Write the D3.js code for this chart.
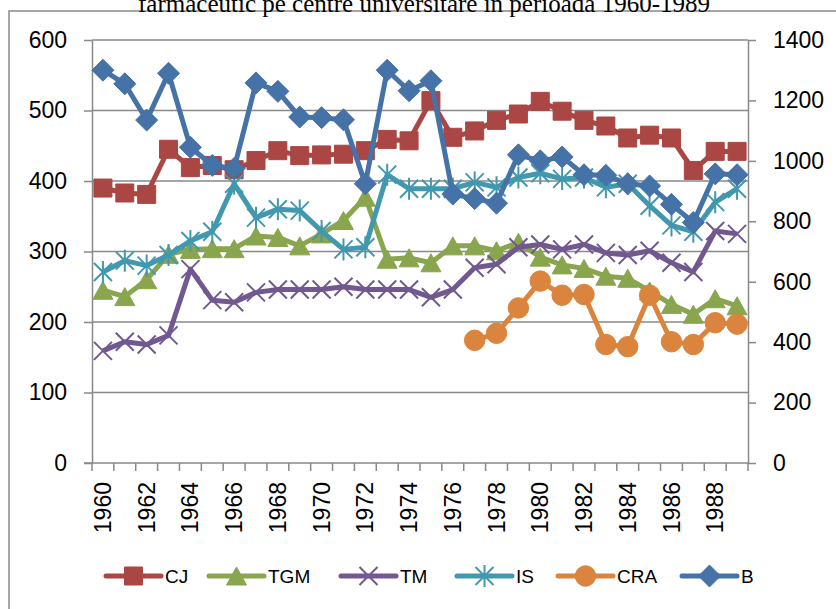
<!DOCTYPE html>
<html>
<head>
<style>
body { margin: 0; background: #fff; }
svg { display: block; }
.lbl { font-family: "Liberation Sans", Arial, sans-serif; font-size: 23px; fill: #000; }
.leg { font-family: "Liberation Sans", Arial, sans-serif; font-size: 19px; fill: #000; }
.title { font-family: "Liberation Serif", "Times New Roman", serif; font-size: 25px; fill: #000; }
</style>
</head>
<body>
<svg id="chart" width="836" height="609"></svg>
<script src="https://d3js.org/d3.v7.min.js"></script>
<script>
    // data
    const years = d3.range(1960, 1990);
    const yearLabels = years.filter(y => y % 2 == 0);
    const leftTicks = [0, 100, 200, 300, 400, 500, 600];
    const rightTicks = [0, 200, 400, 600, 800, 1000, 1200, 1400];

    const CJ  = [390, 383, 381, 445, 419, 422, 416, 429, 443, 436, 437, 438, 443, 459, 457, 514, 462, 471, 486, 495, 513, 499, 486, 478, 461, 465, 461, 415, 442, 442];
    const TGM = [245, 236, 260, 296, 303, 304, 304, 322, 320, 308, 325, 344, 377, 289, 291, 284, 308, 308, 301, 313, 292, 281, 276, 265, 262, 244, 225, 211, 233, 223];
    const TM  = [159, 172, 168, 181, 275, 231, 228, 242, 246, 246, 246, 250, 246, 246, 246, 235, 246, 277, 282, 306, 310, 303, 310, 298, 295, 301, 284, 271, 329, 325];
    const IS  = [271, 287, 280, 295, 315, 328, 396, 348, 360, 358, 329, 303, 306, 409, 389, 389, 389, 398, 391, 405, 411, 403, 405, 391, 396, 365, 337, 328, 370, 389];
    const CRA = [null, null, null, null, null, null, null, null, null, null, null, null, null, null, null, null, null, 174, 184, 220, 258, 238, 239, 168, 165, 238, 172, 168, 199, 197];
    const B   = [1300, 1255, 1135, 1290, 1045, 985, 975, 1258, 1230, 1145, 1143, 1136, 924, 1300, 1232, 1265, 890, 875, 860, 1020, 1000, 1013, 954, 952, 924, 917, 856, 796, 957, 954];

    const titleText = "farmaceutic pe centre universitare în perioada 1960-1989";

    const series = [
        {name: "CJ",  values: CJ,  color: "#AA4643", marker: "square",   axis: "left"},
        {name: "TGM", values: TGM, color: "#89A54E", marker: "triangle", axis: "left"},
        {name: "TM",  values: TM,  color: "#71588F", marker: "x",        axis: "left"},
        {name: "IS",  values: IS,  color: "#4198AF", marker: "star",     axis: "left"},
        {name: "CRA", values: CRA, color: "#DB843D", marker: "circle",   axis: "left"},
        {name: "B",   values: B,   color: "#4572A7", marker: "diamond",  axis: "right"}
    ];

    const svg = d3.select("#chart");
    const plot = {left: 92, right: 748, top: 40, bottom: 463};
    const gridColor = "#898989";

    const x = d3.scaleBand().domain(years).range([plot.left, plot.right]).padding(0);
    const yL = d3.scaleLinear().domain([0, 600]).range([plot.bottom, plot.top]);
    const yR = d3.scaleLinear().domain([0, 1400]).range([plot.bottom, plot.top]);

    // outer frame of the chart (runs off the page on the right and bottom)
    svg.append("rect")
        .attr("x", 9).attr("y", 11)
        .attr("width", 900).attr("height", 700)
        .style("fill", "none")
        .style("stroke", gridColor)
        .style("stroke-width", 1.5);

    // title, cut at the top as in the source picture
    svg.append("text")
        .attr("class", "title")
        .attr("x", 424)
        .attr("y", 12)
        .attr("text-anchor", "middle")
        .text(titleText);

    // gridlines
    svg.append("g").selectAll("line")
        .data(leftTicks.filter(d => d > 0))
        .enter()
        .append("line")
        .attr("x1", plot.left).attr("x2", plot.right)
        .attr("y1", d => yL(d)).attr("y2", d => yL(d))
        .style("stroke", gridColor)
        .style("stroke-width", 1.5);

    function styleAxis(g) {
        g.select(".domain").style("stroke", gridColor).style("stroke-width", 1.5);
        g.selectAll(".tick line").style("stroke", gridColor).style("stroke-width", 1.5);
        g.selectAll(".tick text").attr("class", "lbl");
        g.attr("font-size", null).attr("font-family", null);
    }

    const axL = svg.append("g")
        .attr("transform", "translate(" + plot.left + ",0)")
        .call(d3.axisLeft(yL).tickValues(leftTicks).tickFormat(d3.format("d")).tickSize(8).tickPadding(17).tickSizeOuter(0));
    styleAxis(axL);

    const axR = svg.append("g")
        .attr("transform", "translate(" + plot.right + ",0)")
        .call(d3.axisRight(yR).tickValues(rightTicks).tickFormat(d3.format("d")).tickSize(8).tickPadding(17).tickSizeOuter(0));
    styleAxis(axR);

    // bottom axis: ticks on category boundaries, labels every other year
    const axB = svg.append("g").attr("transform", "translate(0," + plot.bottom + ")");
    axB.append("line")
        .attr("x1", plot.left - 8).attr("x2", plot.right)
        .style("stroke", gridColor).style("stroke-width", 1.5);
    axB.selectAll("line.tk")
        .data(years.concat([1990]))
        .enter()
        .append("line")
        .attr("class", "tk")
        .attr("x1", d => d == 1990 ? plot.right : x(d))
        .attr("x2", d => d == 1990 ? plot.right : x(d))
        .attr("y1", 0).attr("y2", 8)
        .style("stroke", gridColor).style("stroke-width", 1.5);
    axB.selectAll("text")
        .data(yearLabels)
        .enter()
        .append("text")
        .attr("class", "lbl")
        .attr("text-anchor", "end")
        .attr("dy", "0.35em")
        .attr("transform", d => "translate(" + (x(d) + x.bandwidth() / 2) + ",19) rotate(-90)")
        .text(d => d);

    function markerPath(type) {
        if (type == "square") return "M-9,-9H9V9H-9Z";
        if (type == "triangle") return "M0,-9L10,9L-10,9Z";
        if (type == "diamond") return "M0,-11L11,0L0,11L-11,0Z";
        if (type == "circle") return d3.symbol().type(d3.symbolCircle).size(330)();
        if (type == "x") return "M-9,-9L9,9M-9,9L9,-9";
        if (type == "star") return "M-9,-9L9,9M-9,9L9,-9M0,-11V11";
    }

    function drawMarker(g, type, color) {
        var open = (type == "x" || type == "star");
        g.append("path")
            .attr("d", markerPath(type))
            .style("fill", open ? "none" : color)
            .style("stroke", color)
            .style("stroke-width", open ? 2 : 1);
    }

    const cx = d => x(d) + x.bandwidth() / 2;

    series.forEach(s => {
        var ys = s.axis == "left" ? yL : yR;
        var pts = years.map((yr, i) => ({year: yr, v: s.values[i]}));
        var line = d3.line()
            .defined(d => d.v != null)
            .x(d => cx(d.year))
            .y(d => ys(d.v));

        var g = svg.append("g");
        g.append("path")
            .datum(pts)
            .attr("d", line)
            .style("fill", "none")
            .style("stroke", s.color)
            .style("stroke-width", 5)
            .style("stroke-linejoin", "round");

        g.selectAll("g.mk")
            .data(pts.filter(d => d.v != null))
            .enter()
            .append("g")
            .attr("transform", d => "translate(" + cx(d.year) + "," + ys(d.v) + ")")
            .each(function() { drawMarker(d3.select(this), s.marker, s.color); });
    });

    // legend
    const legX = [106, 209, 341, 457, 558, 682];
    const legY = 576;
    const legend = svg.append("g");
    series.forEach((s, i) => {
        var g = legend.append("g").attr("transform", "translate(" + legX[i] + "," + legY + ")");
        g.append("line")
            .attr("x1", 0).attr("x2", 55)
            .style("stroke", s.color)
            .style("stroke-width", 5)
            .style("stroke-linecap", "round");
        drawMarker(g.append("g").attr("transform", "translate(27.5,0)"), s.marker, s.color);
        g.append("text")
            .attr("class", "leg")
            .attr("x", 59)
            .attr("dy", "0.35em")
            .text(s.name);
    });
</script>
</body>
</html>
